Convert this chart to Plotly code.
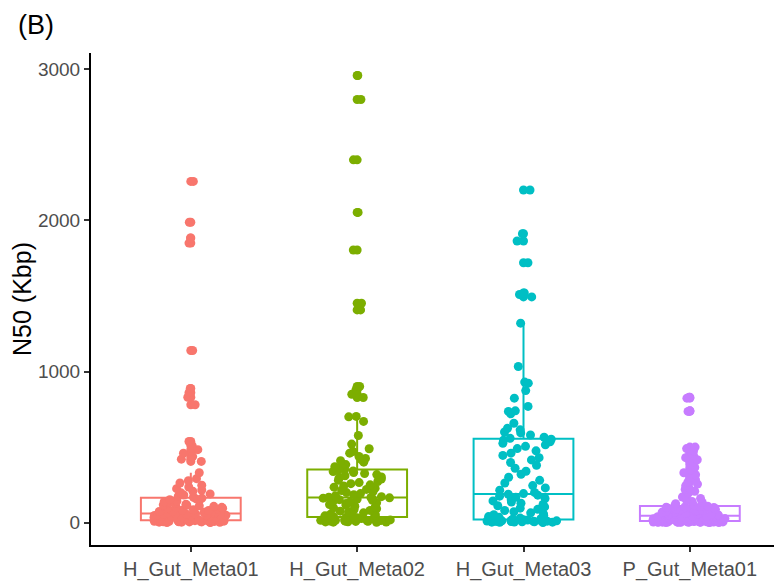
import plotly.graph_objects as go

categories = ["H_Gut_Meta01", "H_Gut_Meta02", "H_Gut_Meta03", "P_Gut_Meta01"]
colors = ["#F8766D", "#7CAE00", "#00BFC4", "#C77CFF"]

h_gut_meta01 = [1, 1, 2, 3, 3, 4, 5, 5, 6, 6, 7, 8, 8, 9, 9, 10, 10, 11, 11, 12, 12, 13, 13, 13, 14, 14, 14, 15, 15, 15,
                16, 17, 18, 19, 21, 22, 24, 25, 26, 28, 29, 31, 32, 34, 35, 37, 38, 40, 41, 43, 44, 46, 48, 49, 51, 53, 54, 56, 57, 59,
                61, 63, 66, 68, 71, 74, 77, 80, 83, 86, 89, 92, 95, 98, 101, 105, 108, 111, 115, 118, 122, 126, 130, 134, 138, 142, 147, 152, 157, 162,
                168, 175, 183, 190, 198, 207, 216, 225, 236, 248, 262, 278, 291, 330,
                405, 420, 438, 460, 483, 510, 537, 780, 830, 860, 888, 1139, 1850, 1884, 1988, 2258]

h_gut_meta02 = [2, 3, 4, 5, 6, 7, 8, 9, 10, 11, 12, 13, 14, 15, 16, 18, 19, 21, 22, 24, 26, 27, 29, 31, 33, 34, 36, 37,
                40, 45, 50, 55, 60, 65, 70, 76, 81, 87, 92, 98, 104, 109, 115, 120, 126, 131, 137, 142, 148, 152, 156, 159, 162, 164, 166,
                168, 172, 178, 185, 192, 199, 206, 213, 220, 228, 235, 243, 250, 258, 265, 272, 280, 288, 295, 302, 310, 318, 325, 332, 338, 342, 345,
                352, 360, 370, 384, 400, 410, 418, 425, 438, 460, 471, 489, 520, 577, 670, 700, 703,
                828, 850, 880, 901, 1408, 1452, 1804, 2053, 2401, 2800, 2959]

h_gut_meta03 = [1, 2, 3, 3, 4, 5, 6, 6, 7, 8, 9, 9, 10, 11, 12, 12, 13, 14, 15, 16, 16, 17, 18, 19, 19,
                22, 26, 30, 35, 40, 46, 52, 58, 65, 72, 80, 88, 96, 104, 112, 120, 128, 136, 144, 152, 160, 168, 175, 182, 188,
                192, 200, 215, 230, 245, 262, 280, 300, 320, 340, 360, 380, 398, 415, 430, 445, 460, 475, 490, 505, 515, 525, 535, 545, 552,
                558, 565, 580, 594, 600, 614, 625, 658, 720, 736, 740, 769, 824, 874, 923, 930, 1033, 1320,
                1494, 1510, 1520, 1720, 1864, 1912, 2201]

p_gut_meta01 = [1, 1, 1, 2, 2, 2, 2, 3, 3, 3, 3, 4, 4, 4, 5, 5, 5, 5, 6, 6, 6, 7, 7, 7, 7, 8, 8, 8, 8, 9, 9, 9, 9, 10, 10,
                11, 12, 12, 13, 14, 15, 16, 16, 17, 18, 19, 20, 21, 22, 23, 24, 25, 26, 27, 28, 29, 30, 31, 32, 33, 34, 35, 36, 37, 38, 39, 40, 41, 43, 44,
                46, 48, 50, 51, 53, 55, 56, 58, 60, 62, 63, 65, 67, 69, 70, 72, 74, 76, 78, 80, 82, 84, 86, 88, 90, 92, 94, 96, 98, 100, 102, 104, 106, 107, 109,
                112, 118, 125, 133, 140, 150, 160, 170, 182, 195, 208, 220, 232, 245, 255,
                270, 284, 300, 317, 330, 350, 365, 385, 400, 416, 430, 445, 460, 475, 490, 500, 736, 740, 824, 830]

series = [h_gut_meta01, h_gut_meta02, h_gut_meta03, p_gut_meta01]

y_ticks = [0, 1000, 2000, 3000]

fig = go.Figure()

# boxplots (outliers drawn at the centre, like ggplot's geom_boxplot)
for cat, vals, col in zip(categories, series, colors):
    fig.add_trace(go.Box(
        x=[cat] * len(vals), y=vals, name=cat,
        boxpoints="outliers", pointpos=0, jitter=0,
        width=0.6, whiskerwidth=0,
        fillcolor="white", line=dict(color=col, width=2),
        marker=dict(color=col, size=9, line=dict(width=0)),
        showlegend=False,
    ))

# jittered points (like geom_jitter)
for cat, vals, col in zip(categories, series, colors):
    fig.add_trace(go.Box(
        x=[cat] * len(vals), y=vals, name=cat,
        boxpoints="all", pointpos=0, jitter=0.75,
        width=0.6, whiskerwidth=0,
        fillcolor="rgba(0,0,0,0)", line=dict(color="rgba(0,0,0,0)", width=0),
        marker=dict(color=col, size=9, line=dict(width=0)),
        showlegend=False, hoverinfo="y",
    ))

# the page body adds an 8px offset, so the figure is 774x573 and placed accordingly
fig.update_layout(
    width=774, height=573,
    margin=dict(l=83, r=0, t=45, b=36),
    paper_bgcolor="white", plot_bgcolor="white",
    boxmode="overlay",
    font=dict(family="Liberation Sans, Arial, sans-serif"),
    xaxis=dict(
        type="category", categoryorder="array", categoryarray=categories,
        range=[-0.6, 3.554], automargin=False,
        showline=True, linecolor="black", linewidth=2,
        ticks="outside", ticklen=5, tickcolor="#333333", tickwidth=1.5,
        tickfont=dict(size=20, color="#4D4D4D"),
        showgrid=False, zeroline=False,
    ),
    yaxis=dict(
        range=[-148, 3108], automargin=False,
        tickvals=y_ticks, ticktext=[str(v) for v in y_ticks],
        showline=True, linecolor="black", linewidth=2,
        ticks="outside", ticklen=5, tickcolor="#333333", tickwidth=1.5,
        tickfont=dict(size=19, color="#4D4D4D"),
        showgrid=False, zeroline=False,
        title=dict(text="N50 (Kbp)", font=dict(size=25, color="black"), standoff=6),
    ),
    annotations=[dict(
        text="(B)", xref="paper", yref="paper", x=-0.108, y=1.056,
        xanchor="left", yanchor="middle", showarrow=False,
        font=dict(size=27, color="black"),
    )],
)

fig.write_html("out.html")
